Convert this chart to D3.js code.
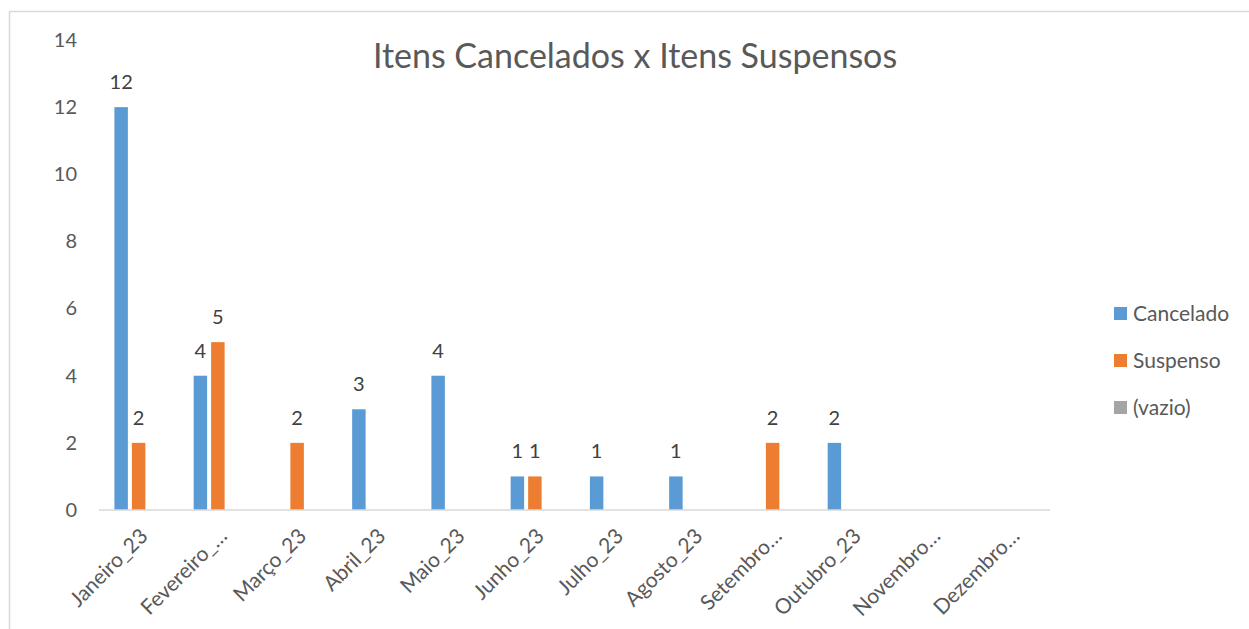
<!DOCTYPE html>
<html>
<head>
<meta charset="utf-8">
<script src="https://cdn.jsdelivr.net/npm/d3@7"></script>
<style>
  body { margin: 0; background: #fff; }
  text { font-family: Lato, "Open Sans", sans-serif; }
</style>
</head>
<body>
<div id="chart"></div>
<script>
const months = ["Janeiro_23", "Fevereiro_…", "Março_23", "Abril_23", "Maio_23", "Junho_23",
    "Julho_23", "Agosto_23", "Setembro…", "Outubro_23", "Novembro…", "Dezembro…"];
const cancelado = [12, 4, null, 3, 4, 1, 1, 1, null, 2, null, null];
const suspenso = [2, 5, 2, null, null, 1, null, null, 2, null, null, null];
const vazio = [null, null, null, null, null, null, null, null, null, null, null, null];
const seriesNames = ["Cancelado", "Suspenso", "(vazio)"];
const seriesColors = ["#5B9BD5", "#ED7D31", "#A5A5A5"];
const yTicks = [0, 2, 4, 6, 8, 10, 12, 14];

const width = 1249;
const height = 629;
const margin = { top: 40, right: 199, bottom: 119, left: 99 };

const svg = d3.select("#chart")
    .append("svg")
    .attr("width", width)
    .attr("height", height);

// frame (only top and left visible in the crop)
svg.append("path")
    .attr("d", `M9.5,${height} V11.5 H${width}`)
    .attr("fill", "none")
    .attr("stroke", "#D9D9D9")
    .attr("stroke-width", 1.5);

const xScale = d3.scaleBand()
    .domain(months)
    .range([margin.left, width - margin.right])
    .paddingInner(0.338)
    .paddingOuter(0.169);

const xInner = d3.scaleBand()
    .domain(seriesNames)
    .range([0, xScale.bandwidth()])
    .paddingInner(0.23)
    .paddingOuter(0.115);

const yScale = d3.scaleLinear()
    .domain([0, 14])
    .range([height - margin.bottom, margin.top]);

// y tick labels
const leftAxis = d3.axisLeft(yScale).tickValues(yTicks).tickSize(0).tickPadding(22);
const gy = svg.append("g")
    .attr("transform", `translate(${margin.left}, 0)`)
    .call(leftAxis);
gy.select(".domain").remove();
gy.selectAll("text")
    .attr("fill", "#595959")
    .style("font-size", "20px")
    .style("font-family", "Lato, sans-serif");

// bars
const allSeries = [cancelado, suspenso, vazio];
allSeries.forEach((vals, si) => {
    const pts = months.map((m, i) => ({ m, v: vals[i] })).filter(d => d.v != null);
    const g = svg.append("g");
    g.selectAll("rect")
        .data(pts)
        .join("rect")
        .attr("x", d => xScale(d.m) + xInner(seriesNames[si]))
        .attr("y", d => yScale(d.v))
        .attr("width", xInner.bandwidth())
        .attr("height", d => yScale(0) - yScale(d.v))
        .attr("fill", seriesColors[si]);
    g.selectAll("text")
        .data(pts)
        .join("text")
        .attr("x", d => xScale(d.m) + xInner(seriesNames[si]) + xInner.bandwidth() / 2)
        .attr("y", d => yScale(d.v) - 18)
        .attr("text-anchor", "middle")
        .attr("fill", "#404040")
        .style("font-size", "20px")
        .text(d => d.v);
});

// baseline
svg.append("line")
    .attr("x1", margin.left)
    .attr("x2", width - margin.right)
    .attr("y1", yScale(0))
    .attr("y2", yScale(0))
    .attr("stroke", "#D9D9D9")
    .attr("stroke-width", 1.5);

// x labels
svg.append("g")
    .selectAll("text")
    .data(months)
    .join("text")
    .attr("transform", d => `translate(${xScale(d) + xScale.bandwidth() / 2}, ${yScale(0) + 17}) rotate(-45)`)
    .attr("text-anchor", "end")
    .attr("dy", "0.7em")
    .attr("fill", "#595959")
    .style("font-size", "21px")
    .text(d => d);

// title
svg.append("text")
    .attr("x", 635)
    .attr("y", 68)
    .attr("text-anchor", "middle")
    .attr("fill", "#595959")
    .style("font-size", "34px")
    .text("Itens Cancelados x Itens Suspensos");

// legend
const legend = svg.append("g")
    .selectAll("g")
    .data(seriesNames)
    .join("g")
    .attr("transform", (d, i) => `translate(1114, ${307 + i * 47})`);
legend.append("rect")
    .attr("width", 13)
    .attr("height", 13)
    .attr("fill", (d, i) => seriesColors[i]);
legend.append("text")
    .attr("x", 19)
    .attr("y", 14)
    .attr("fill", "#595959")
    .style("font-size", "21px")
    .text(d => d);
</script>
</body>
</html>
